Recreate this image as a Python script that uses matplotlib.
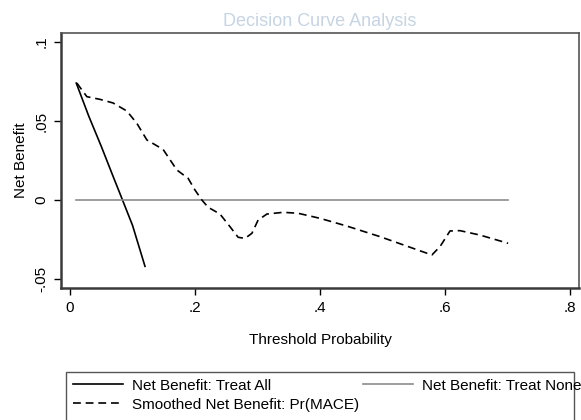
import numpy as np
import matplotlib.pyplot as plt
from matplotlib.patches import Rectangle

plt.rcParams["font.family"] = ["Liberation Sans", "DejaVu Sans"]

# threshold probabilities and net benefit
pt_all = [0.01, 0.03, 0.05, 0.07, 0.08, 0.10, 0.12]
nb_all = [0.074, 0.0531, 0.034, 0.0139, 0.004, -0.016, -0.042]

pt_none = [0.01, 0.70]
nb_none = [0.0, 0.0]

pt_model = [0.011, 0.027, 0.048, 0.069, 0.091, 0.107, 0.123, 0.149, 0.171, 0.189,
            0.200, 0.211, 0.221, 0.240, 0.256, 0.269, 0.280, 0.291, 0.301, 0.315,
            0.341, 0.365, 0.400, 0.443, 0.496, 0.549, 0.579, 0.592, 0.608, 0.624,
            0.656, 0.701]
nb_model = [0.074, 0.0654, 0.0637, 0.0614, 0.0563, 0.0485, 0.038, 0.032, 0.019, 0.0137,
            0.0063, 0.0, -0.0046, -0.0089, -0.0169, -0.0236, -0.0243, -0.0211, -0.0127, -0.0089,
            -0.0078, -0.0084, -0.0116, -0.0165, -0.0232, -0.0306, -0.0348, -0.0295, -0.0196, -0.0194,
            -0.0222, -0.0274]

xticks = [0, 0.2, 0.4, 0.6, 0.8]
xticklabels = ["0", ".2", ".4", ".6", ".8"]
yticks = [-0.05, 0, 0.05, 0.1]
yticklabels = ["-.05", "0", ".05", ".1"]

W, H = 581, 420
fs = 11
fig = plt.figure(figsize=(W / 100, H / 100), dpi=100)
ax = fig.add_axes([61 / W, 1 - 288 / H, (579 - 61) / W, (288 - 33) / H])

l_all, = ax.plot(pt_all, nb_all, color="black", lw=1.2, label="Net Benefit: Treat All")
l_none, = ax.plot(pt_none, nb_none, color="#8c8c8c", lw=1.2, label="Net Benefit: Treat None")
l_model, = ax.plot(pt_model, nb_model, color="black", lw=1.2, dashes=(4.7, 2.9),
                   label="Smoothed Net Benefit: Pr(MACE)")

ax.set_xlim(-0.0144, 0.8144)
ax.set_ylim(-0.0557, 0.1057)
ax.set_xticks(xticks)
ax.set_xticklabels(xticklabels)
ax.set_yticks(yticks)
ax.set_yticklabels(yticklabels, rotation=90, va="center")
ax.tick_params(direction="out", length=5, width=1, labelsize=fs, colors="black", pad=4)

for s in ["left", "bottom"]:
    ax.spines[s].set_linewidth(1.8)
    ax.spines[s].set_color("#3a3a3a")
for s in ["top", "right"]:
    ax.spines[s].set_linewidth(1.2)
    ax.spines[s].set_color("#555555")

ax.set_xlabel("Threshold Probability", fontsize=fs, labelpad=13)
ax.set_ylabel("Net Benefit", fontsize=fs, labelpad=5)
ax.set_title("Decision Curve Analysis", fontsize=13, color="#c6d4e3", pad=5)

leg = fig.legend([l_all, l_model, l_none],
                 [l_all.get_label(), l_model.get_label(), l_none.get_label()],
                 ncol=2, loc="upper left", bbox_to_anchor=(66 / W, 1 - 372 / H),
                 borderaxespad=0, fontsize=fs, handlelength=3.27, handletextpad=0.59,
                 columnspacing=0.25, borderpad=0.44, labelspacing=0.32, frameon=False)

# legend box: narrower than its text, as in the original
fig.patches.append(Rectangle((66 / W, -0.1), (574 - 66) / W, 0.1 + 1 - 372 / H,
                             transform=fig.transFigure, fill=False,
                             edgecolor="#555555", lw=1.0))

fig.savefig("out.png", dpi=100)
